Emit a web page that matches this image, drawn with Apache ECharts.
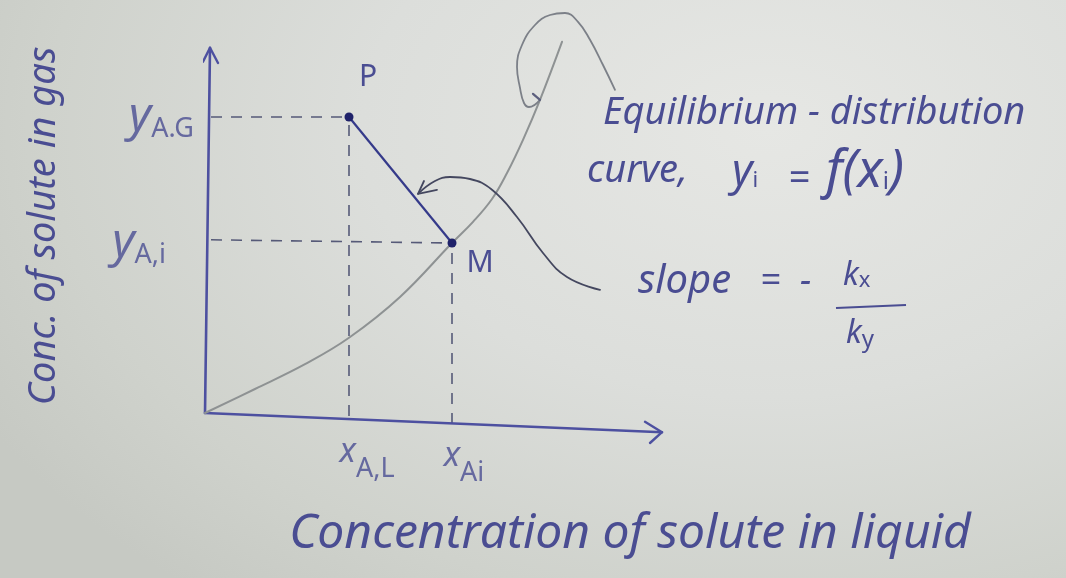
<!DOCTYPE html>
<html>
<head>
<meta charset="utf-8">
<title>Gas–liquid interface concentrations</title>
<script src="https://cdn.jsdelivr.net/npm/echarts@6/dist/echarts.min.js"></script>
<style>
  html, body { margin: 0; padding: 0; }
  body {
    width: 1066px; height: 578px; overflow: hidden;
    background: radial-gradient(ellipse 900px 600px at 72% 22%, #e6e7e4 0%, #dcdedb 45%, #cfd2cc 80%, #c6c9c3 100%);
  }
  #chart { width: 1066px; height: 578px; }
</style>
</head>
<body>
<div id="chart"></div>
<script>
// Equilibrium-distribution curve y_i = f(x_i), read at a few points
const curveX = [0, 1.00, 2.00, 2.88, 3.90, 4.94, 5.36, 5.74, 6.04, 6.36, 6.70, 7.14];
const curveY = [0, 0.60, 1.22, 1.88, 2.90, 4.25, 4.78, 5.35, 6.00, 6.83, 7.83, 9.28];

// Bulk state P (x_A,L , y_A,G) and interface state M (x_A,i , y_A,i)
const pointP = [2.88, 7.40];
const pointM = [4.94, 4.25];

// Axis ends (hand-drawn, the x axis runs slightly downhill)
const xAxisEnd = [9.14, -0.48];
const yAxisEnd = [0.10, 9.13];
const xArrowX = [8.80, 9.14, 8.90];
const xArrowY = [-0.22, -0.48, -0.75];
const yArrowX = [-0.04, 0.10, 0.26];
const yArrowY = [8.78, 9.13, 8.75];

// Pointer from the curve caption to the equilibrium curve
const eqPointerX = [8.20, 7.96, 7.70, 7.46, 7.20, 6.90, 6.60, 6.34, 6.24, 6.30, 6.38, 6.48, 6.70];
const eqPointerY = [8.08, 8.70, 9.33, 9.78, 10.0, 9.95, 9.70, 9.20, 8.65, 8.13, 7.75, 7.65, 7.83];
const eqHeadX = [6.56, 6.70];
const eqHeadY = [7.98, 7.83];

// Pointer from the slope caption to the line PM
const slopePointerX = [7.90, 7.24, 6.76, 6.24, 5.74, 5.30, 4.90, 4.60, 4.26];
const slopePointerY = [3.08, 3.40, 4.00, 4.90, 5.58, 5.85, 5.90, 5.80, 5.48];
const slopeHeadX = [4.38, 4.26, 4.64];
const slopeHeadY = [5.80, 5.48, 5.58];

// Tick labels on both axes
const yTickLabels = ['{b|y}{s|A.G}', '{b|y}{s|A,i}'];
const xTickLabels = ['{b|x}{s|A,L}', '{b|x}{s|Ai}'];

const zip = (xs, ys) => xs.map((x, i) => [x, ys[i]]);

const INK = '#4d50a0';
const INK_TEXT = '#4a4d92';
const DARK = '#1f226a';
const PENCIL = '#8e9293';
const HAND = "'Noto Sans', 'DejaVu Sans', sans-serif";

const dashed = (data, w) => ({
  type: 'line', data, symbol: 'none', clip: false, silent: true, z: 2,
  lineStyle: { color: '#565a78', width: w || 1.6, type: [11, 9] }
});
const solid = (data, color, width, smooth) => ({
  type: 'line', data, symbol: 'none', clip: false, silent: true,
  smooth: smooth || false, z: 3,
  lineStyle: { color, width, cap: 'round', join: 'round' }
});

const yRich = {
  b: { fontSize: 48, fontFamily: HAND, fontStyle: 'italic', color: INK_TEXT },
  s: { fontSize: 27, fontFamily: HAND, color: INK_TEXT, padding: [24, 0, 0, 0] }
};
const xRich = {
  b: { fontSize: 34, fontFamily: HAND, fontStyle: 'italic', color: INK_TEXT },
  s: { fontSize: 27, fontFamily: HAND, color: INK_TEXT, padding: [34, 0, 0, 0] }
};

// caption text helpers for the free annotations
const txt = (extra) => Object.assign({ fontFamily: HAND, fontStyle: 'italic', fill: INK_TEXT }, extra);
const caption = (left, top, style) => ({ type: 'text', left, top, silent: true, style: txt(style) });
const subRich = (bSize, sSize, drop) => ({
  b: txt({ fontSize: bSize }),
  s: { fontFamily: HAND, fontSize: sSize, fill: INK_TEXT, padding: [drop, 0, 0, 0] }
});

const chart = echarts.init(document.getElementById('chart'), null, { renderer: 'canvas' });

chart.setOption({
  backgroundColor: 'transparent',
  animation: false,
  grid: { left: 205, right: 61, top: 13, bottom: 165 },
  xAxis: { type: 'value', min: 0, max: 16, show: false },
  yAxis: { type: 'value', min: 0, max: 10, show: false },
  series: [
    // axes with open arrow heads
    solid([[0, 0], xAxisEnd], INK, 2.6),
    solid(zip(xArrowX, xArrowY), INK, 2.4),
    solid([[0, 0], yAxisEnd], INK, 2.6),
    solid(zip(yArrowX, yArrowY), INK, 2.4),

    // dashed guides to the axes
    dashed([[0.12, pointP[1]], pointP]),
    dashed([[0.12, pointM[1] + 0.08], pointM]),
    dashed([[pointP[0], pointP[1] - 0.2], [pointP[0], -0.3]]),
    dashed([[pointM[0], pointM[1] - 0.25], [pointM[0], -0.3]]),

    // equilibrium curve
    solid(zip(curveX, curveY), PENCIL, 2, 0.4),

    // pointers from the captions
    solid(zip(eqPointerX, eqPointerY), '#7c8088', 1.8, 0.45),
    solid(zip(eqHeadX, eqHeadY), '#5c5f7e', 2.2),
    solid(zip(slopePointerX, slopePointerY), '#44475f', 1.8, 0.45),
    solid(zip(slopeHeadX, slopeHeadY), '#44475f', 1.8),

    // driving-force line P → M with its end points
    {
      type: 'line', data: [pointP, pointM], clip: false, silent: true, z: 5,
      symbol: 'circle', symbolSize: 9,
      itemStyle: { color: DARK },
      lineStyle: { color: '#353a8a', width: 2.2 },
      label: {
        show: true, fontFamily: HAND, fontSize: 30, color: INK_TEXT,
        formatter: p => (p.dataIndex === 0 ? 'P' : 'M'),
        position: 'inside'
      },
      labelLayout: p => (p.dataIndex === 0
        ? { dx: 19, dy: -40 }
        : { dx: 28, dy: 20 })
    },

    // axis tick labels
    {
      type: 'scatter', symbolSize: 0, clip: false, silent: true, z: 6,
      data: [
        { value: [0, pointP[1]], label: { formatter: yTickLabels[0], position: 'left', offset: [-6, 0], rich: yRich } },
        { value: [0, pointM[1]], label: { formatter: yTickLabels[1], position: 'left', offset: [-34, 0], rich: yRich } },
        { value: [pointP[0], 0], label: { formatter: xTickLabels[0], position: 'bottom', offset: [18, 4], rich: xRich } },
        { value: [pointM[0], 0], label: { formatter: xTickLabels[1], position: 'bottom', offset: [12, 8], rich: xRich } }
      ],
      label: { show: true }
    }
  ],
  graphic: [
    caption(603, 94, { text: 'Equilibrium - distribution', fontSize: 38 }),

    // curve,  y_i = f(x_i)
    caption(587, 152, { text: 'curve,', fontSize: 38 }),
    { type: 'text', left: 732, top: 150, silent: true,
      style: { text: '{b|y}{s|i}', rich: subRich(44, 22, 18) } },
    caption(788, 160, { text: '=', fontSize: 38 }),
    { type: 'text', left: 826, top: 146, silent: true,
      style: { text: '{b|f(x}{s|i}{b|)}', rich: subRich(52, 24, 20) } },

    // slope = − k_x / k_y
    caption(638, 262, { text: 'slope', fontSize: 40 }),
    caption(760, 264, { text: '=', fontSize: 36 }),
    caption(800, 264, { text: '−', fontSize: 36 }),
    { type: 'text', left: 843, top: 260, silent: true,
      style: { text: '{b|k}{s|x}', rich: subRich(32, 22, 10) } },
    {
      type: 'line', silent: true,
      shape: { x1: 836, y1: 308, x2: 906, y2: 305 },
      style: { stroke: INK_TEXT, lineWidth: 2 }
    },
    { type: 'text', left: 846, top: 318, silent: true,
      style: { text: '{b|k}{s|y}', rich: subRich(32, 24, 12) } },

    {
      type: 'text', x: 630, y: 534, silent: true,
      style: txt({ text: 'Concentration of solute in liquid', fontSize: 48,
                   align: 'center', verticalAlign: 'middle' })
    },
    {
      type: 'text', x: 44, y: 226, rotation: Math.PI / 2, silent: true,
      style: txt({ text: 'Conc. of solute in gas', fontSize: 38,
                   align: 'center', verticalAlign: 'middle' })
    }
  ]
});
</script>
</body>
</html>
